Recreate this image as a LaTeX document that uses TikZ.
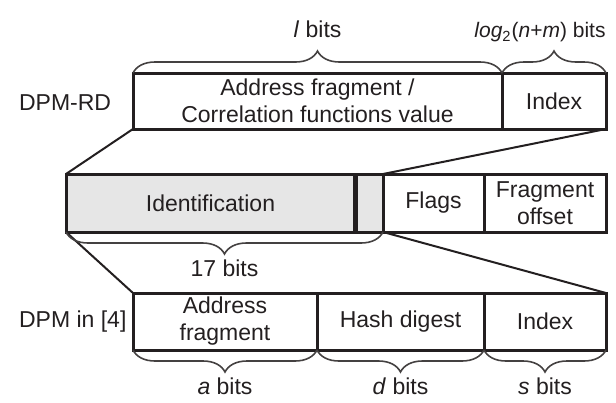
\documentclass[tikz,border=0pt]{standalone}
\usepackage{fontspec}
\setmainfont{Liberation Sans}
\usetikzlibrary{positioning,decorations.pathreplacing}
\definecolor{ink}{HTML}{231F20}
\definecolor{shade}{HTML}{E6E6E6}

\begin{document}
\begin{tikzpicture}[x=0.5pt, y=-0.5pt,
  font=\fontsize{11.5}{13.5}\selectfont,
  field/.style={draw=ink, line width=1.5pt, outer sep=0pt, inner sep=1pt, align=center, text=ink},
  toprow/.style={field, minimum height=28pt},
  midrow/.style={field, minimum height=29pt},
  botrow/.style={field, minimum height=28.5pt},
  fan/.style={draw=ink, line width=1pt},
  bits/.style={decorate, decoration={brace, amplitude=11pt}, draw=ink!85, line width=0.8pt},
  bitlabel/.style={midway, text=ink, text height=1.6ex, text depth=.3ex}
]
\useasboundingbox (0,0) rectangle (616,402);
% DPM-RD
\node[toprow, minimum width=184.5pt, anchor=west] (addr) at (133,101) {Address fragment /\\Correlation functions value};
\node[toprow, minimum width=52pt, right=0pt of addr] (index) {Index};
\node[anchor=west, text=ink] (rd) at (12,103) {DPM-RD};
% IP header fields
\node[midrow, fill=shade, minimum width=144.5pt, anchor=west] (ident) at (66,203) {Identification};
\node[midrow, fill=shade, minimum width=14pt, right=0pt of ident] (spare) {};
\node[midrow, minimum width=50.5pt, right=0pt of spare] (flags) {Flags};
\node[midrow, minimum width=61pt, right=0pt of flags] (offset) {Fragment\\offset};
\draw[ink, line width=2.5pt] (ident.north east) -- (ident.south east);
% DPM in [4]
\node[botrow, minimum width=92pt, anchor=west] (afrag) at (133,321.5) {Address\\fragment};
\node[botrow, minimum width=83.5pt, right=0pt of afrag] (hash) {Hash digest};
\node[botrow, minimum width=61pt, right=0pt of hash] (sidx) {Index};
\node[anchor=west, text=ink] (old) at (12,322) {DPM in [4]};
% mapping lines
\draw[fan] (addr.south west) -- (ident.north west);
\draw[fan] (index.south east) -- (spare.north east);
\draw[fan] (ident.south west) -- (afrag.north west);
\draw[fan] (spare.south east) -- (sidx.north east);
% field sizes
\draw[bits] (addr.north west) -- node[bitlabel, yshift=21pt] (lbits) {\textit{l} bits} (addr.north east);
\draw[bits] (index.north west) -- node[bitlabel, yshift=21pt, xshift=-7pt, font=\fontsize{10.5}{12}\selectfont] (logbits) {\textit{log}\textsubscript{2}(\textit{n}+\textit{m}) bits} (index.north east);
\draw[bits] (spare.south east) -- node[bitlabel, yshift=-19pt] (idbits) {17 bits} (ident.south west);
\draw[bits] (afrag.south east) -- node[bitlabel, yshift=-19pt] (abits) {\textit{a} bits} (afrag.south west);
\draw[bits] (hash.south east) -- node[bitlabel, yshift=-19pt] (dbits) {\textit{d} bits} (hash.south west);
\draw[bits] (sidx.south east) -- node[bitlabel, yshift=-19pt] (sbits) {\textit{s} bits} (sidx.south west);
\end{tikzpicture}
\end{document}
